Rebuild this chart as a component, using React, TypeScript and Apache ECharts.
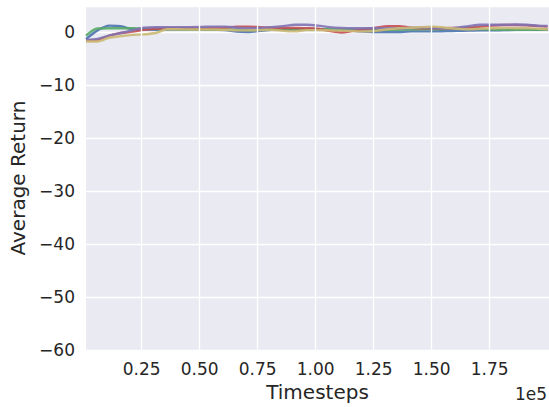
import React, { useEffect, useRef } from "react";
import * as echarts from "echarts";

const timesteps = [
  1000, 6000, 11000, 16000, 21000, 26000, 31000, 36000, 41000, 46000, 51000,
  56000, 61000, 66000, 71000, 76000, 81000, 86000, 91000, 96000, 101000,
  106000, 111000, 116000, 121000, 126000, 131000, 136000, 141000, 146000,
  151000, 156000, 161000, 166000, 171000, 176000, 181000, 186000, 191000,
  196000, 200000,
];

const blueRun = [
  -1.25, 0.4, 1.3, 1.2, 0.6, 0.55, 0.5, 0.55, 0.6, 0.6, 0.55, 0.5, 0.45, 0.15,
  0.1, 0.3, 0.5, 0.55, 0.6, 0.6, 0.55, 0.5, 0.5, 0.3, 0.15, 0.07, 0.07, 0.1,
  0.2, 0.2, 0.2, 0.25, 0.3, 0.35, 0.4, 0.4, 0.45, 0.5, 0.55, 0.5, 0.5,
];
const greenRun = [
  -0.6, 0.75, 0.8, 0.8, 0.8, 0.75, 0.65, 0.6, 0.55, 0.5, 0.5, 0.5, 0.55, 0.5,
  0.45, 0.5, 0.55, 0.6, 0.6, 0.6, 0.6, 0.6, 0.6, 0.6, 0.55, 0.5, 0.5, 0.5,
  0.55, 0.6, 0.6, 0.65, 0.7, 0.75, 0.65, 0.55, 0.5, 0.5, 0.5, 0.5, 0.5,
];
const redRun = [
  -1.5, -1.4, -0.6, -0.1, 0.15, 0.5, 0.7, 0.8, 0.8, 0.85, 0.8, 0.85, 0.9, 1.1,
  1.1, 1.0, 0.9, 0.85, 0.85, 0.8, 0.7, 0.3, 0.0, 0.3, 0.6, 0.9, 1.2, 1.2, 0.9,
  0.8, 0.8, 0.8, 0.85, 0.9, 1.1, 1.3, 1.4, 1.4, 1.35, 1.2, 1.1,
];
const purpleRun = [
  -1.4, -1.2, -0.6, -0.1, 0.4, 0.9, 1.0, 1.0, 1.0, 1.0, 1.05, 1.1, 1.1, 0.9,
  0.8, 0.85, 1.0, 1.2, 1.45, 1.45, 1.3, 1.0, 0.85, 0.8, 0.8, 0.8, 0.8, 0.8,
  0.85, 0.95, 0.85, 0.8, 0.9, 1.2, 1.45, 1.45, 1.45, 1.5, 1.45, 1.3, 1.25,
];
const yellowRun = [
  -1.7, -1.7, -1.0, -0.7, -0.45, -0.35, -0.1, 0.6, 0.6, 0.55, 0.55, 0.55, 0.5,
  0.4, 0.4, 0.45, 0.5, 0.3, 0.2, 0.45, 0.45, 0.4, 0.35, 0.25, 0.2, 0.3, 0.6,
  0.8, 0.9, 1.0, 1.1, 0.9, 0.7, 0.6, 0.7, 0.8, 0.85, 0.8, 0.8, 0.7, 0.6,
];

const xTicks = [25000, 50000, 75000, 100000, 125000, 150000, 175000];

const runs = [
  { name: "run 1", data: blueRun, color: "#4C72B0" },
  { name: "run 2", data: greenRun, color: "#55A868" },
  { name: "run 3", data: redRun, color: "#C44E52" },
  { name: "run 4", data: purpleRun, color: "#8172B2" },
  { name: "run 5", data: yellowRun, color: "#CCB974" },
];

const FONT = "DejaVu Sans";
const TXT = "#262626";

export default function App() {
  const ref = useRef<HTMLDivElement>(null);
  useEffect(() => {
    if (!ref.current) return;
    const chart = echarts.init(ref.current, null, { renderer: "svg" });
    const lineSeries = runs.map((r) => ({
      type: "line",
      name: r.name,
      data: timesteps.map((t, i) => [t, r.data[i]]),
      showSymbol: false,
      smooth: 0.3,
      z: 3,
      lineStyle: { color: r.color, width: 2.4, opacity: 0.9 },
      itemStyle: { color: r.color },
    }));
    chart.setOption({
      animation: false,
      textStyle: { fontFamily: FONT },
      grid: {
        left: 82,
        top: 6,
        right: 0,
        bottom: 54,
        show: true,
        backgroundColor: "#EAEAF2",
        borderWidth: 0,
      },
      xAxis: {
        type: "value",
        min: 1000,
        max: 200600,
        name: "Timesteps",
        nameLocation: "middle",
        nameGap: 30,
        nameTextStyle: { fontSize: 20, color: TXT, fontFamily: FONT },
        axisLine: { show: false },
        axisTick: { show: false },
        splitLine: { show: false },
        axisLabel: {
          customValues: xTicks,
          fontSize: 17,
          color: TXT,
          margin: 10,
          fontFamily: FONT,
          formatter: (v: number) => (v / 1e5).toFixed(2),
        },
      },
      yAxis: {
        type: "value",
        min: -60,
        max: 5,
        interval: 10,
        name: "Average Return",
        nameLocation: "middle",
        nameGap: 58,
        nameTextStyle: { fontSize: 20, color: TXT, fontFamily: FONT },
        axisLine: { show: false },
        axisTick: { show: false },
        splitLine: { show: true, lineStyle: { color: "#FFFFFF", width: 1.3 } },
        axisLabel: {
          fontSize: 17,
          color: TXT,
          margin: 11,
          fontFamily: FONT,
          formatter: (v: number) =>
            v % 10 === 0 ? String(v).replace("-", "\u2212") : "",
        },
      },
      graphic: [
        {
          type: "text",
          right: 2,
          top: 385,
          style: { text: "1e5", fontSize: 17, fill: TXT, fontFamily: FONT },
        },
      ],
      series: [
        {
          type: "line",
          name: "grid",
          data: [],
          z: 1,
          silent: true,
          markLine: {
            silent: true,
            symbol: "none",
            label: { show: false },
            lineStyle: { color: "#FFFFFF", width: 1.3, type: "solid" },
            data: xTicks.map((v) => ({ xAxis: v })),
          },
        },
        ...lineSeries,
      ],
    });
    return () => chart.dispose();
  }, []);
  return (
    <div
      ref={ref}
      style={{ position: "absolute", left: 0, top: 0, width: 549, height: 407 }}
    />
  );
}
